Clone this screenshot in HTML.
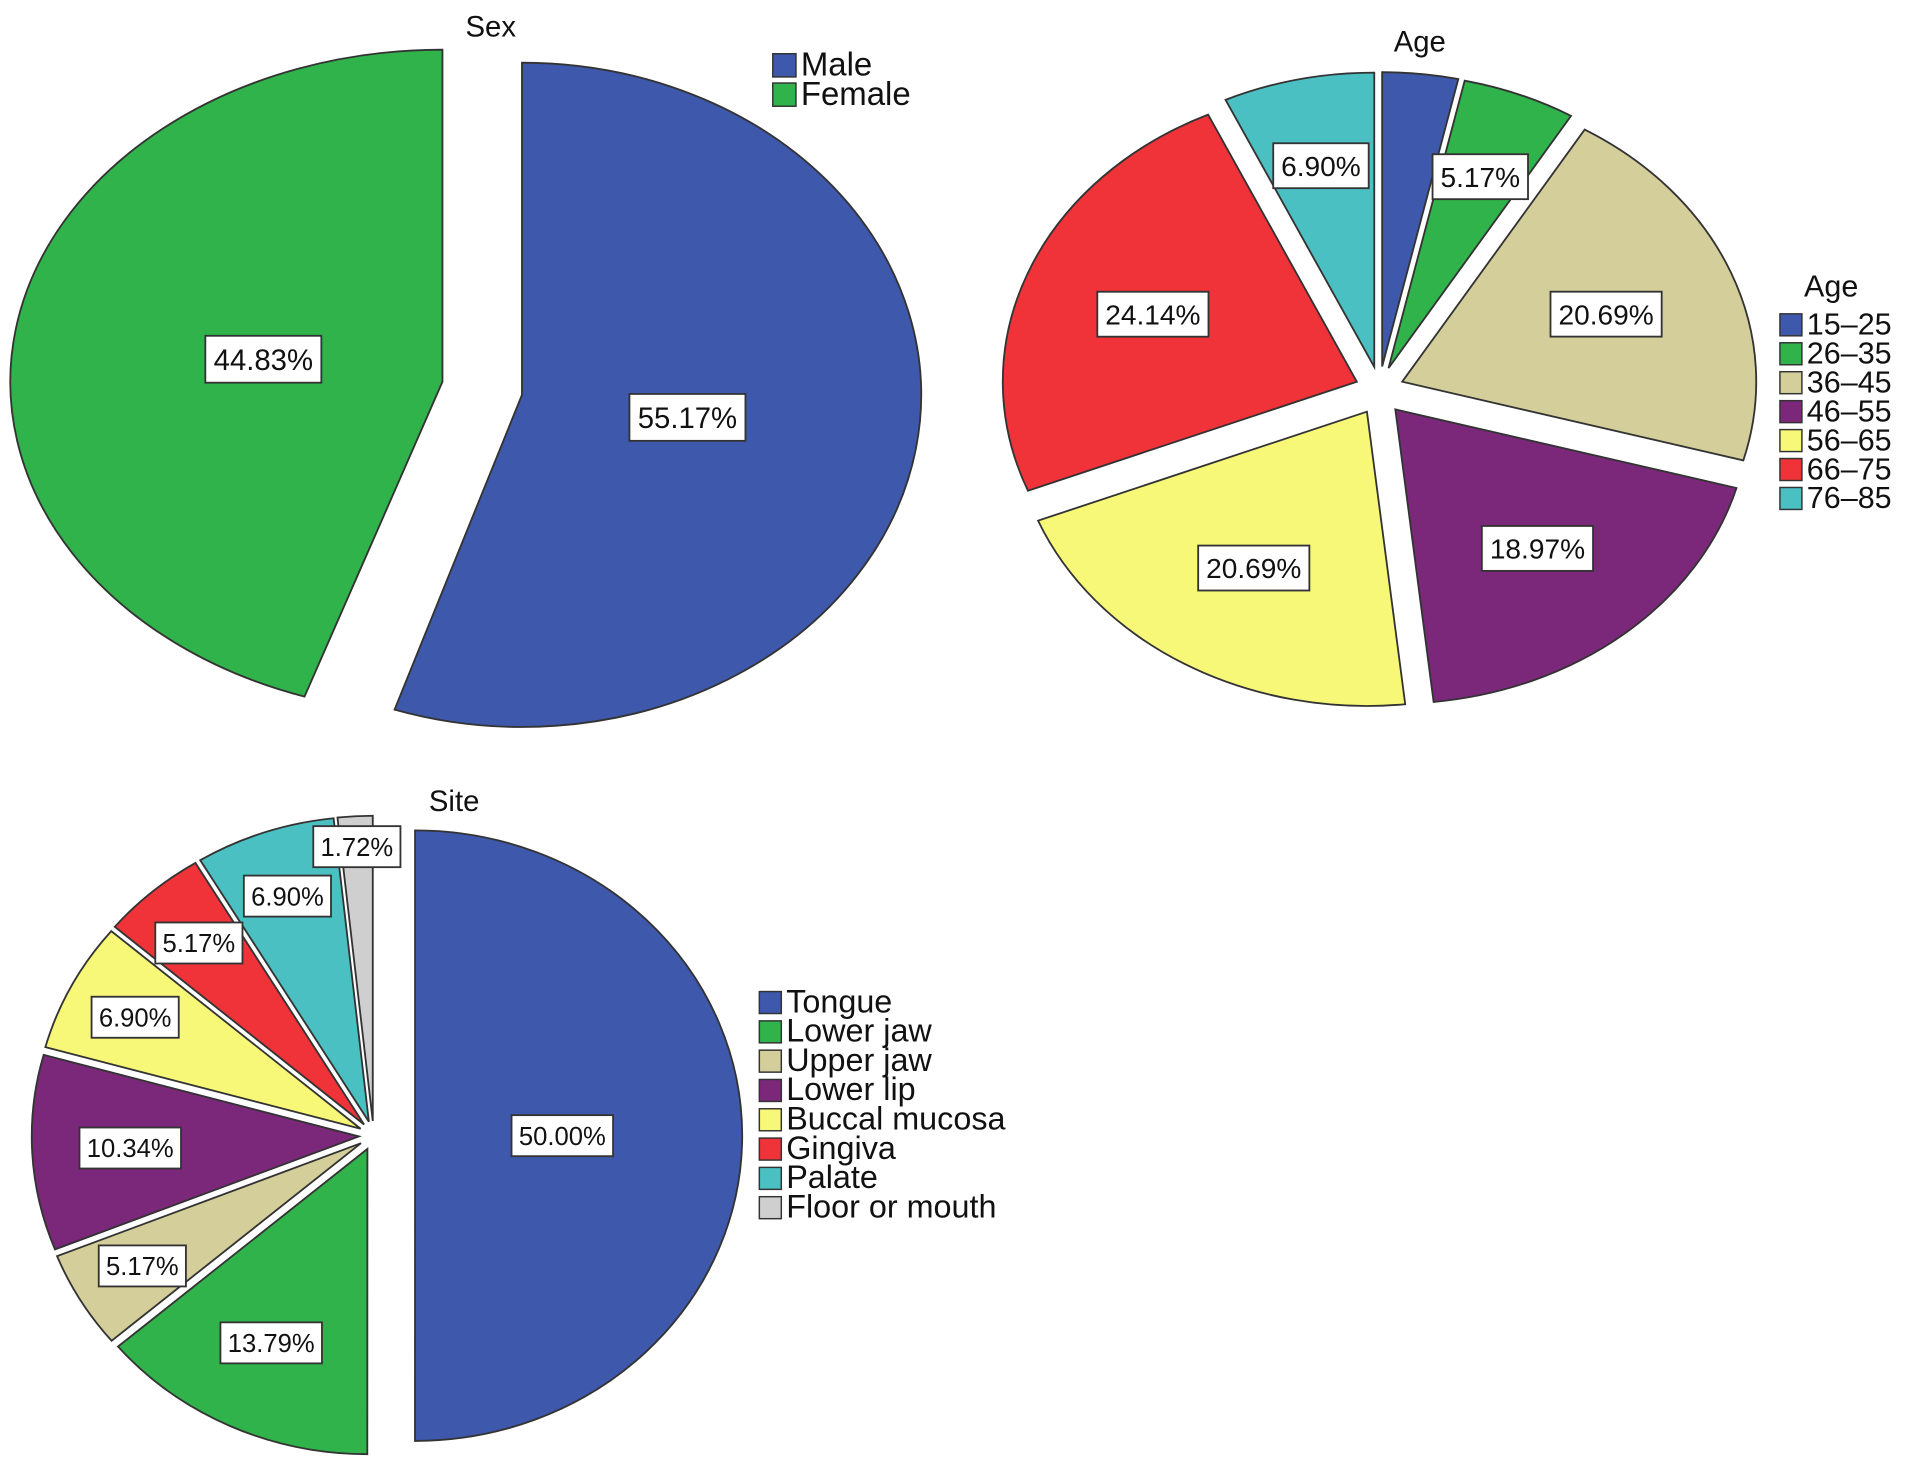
<!DOCTYPE html>
<html><head><meta charset="utf-8"><style>
html,body{margin:0;padding:0;background:#fff}
svg{display:block}
text{font-family:"Liberation Sans",sans-serif;fill:#111}
</style></head><body>
<svg id="chart" width="1913" height="1480" viewBox="0 0 1567 1212" preserveAspectRatio="none">
<g id="g-sex"></g>
<g id="g-age"></g>
<g id="g-site"></g>
</svg>
<script>
const sexCategories = ["Male","Female"];
const sexValues = [55.17, 44.83];
const ageCategories = ["15–25","26–35","36–45","46–55","56–65","66–75","76–85"];
const ageValues = [3.45, 5.17, 20.69, 18.97, 20.69, 24.14, 6.90];
const siteCategories = ["Tongue","Lower jaw","Upper jaw","Lower lip","Buccal mucosa","Gingiva","Palate","Floor or mouth"];
const siteValues = [50.00, 13.79, 5.17, 10.34, 6.90, 5.17, 6.90, 1.72];
const colors = ["#3e58ac","#2fb34a","#d4cf9a","#7b287a","#f8f878","#ef3338","#4ac0c3","#cfcfcf"];
const NS = "http://www.w3.org/2000/svg";
function mk(tag, attrs, parent){const e=document.createElementNS(NS,tag);for(const k in attrs)e.setAttribute(k,attrs[k]);parent.appendChild(e);return e;}
function pt(cx,cy,rx,ry,a){return [cx+rx*Math.sin(a), cy-ry*Math.cos(a)];}
function drawPie(g, name, cats, vals, o){
  const total = vals.reduce((a,b)=>a+b,0);
  let acc = 0;
  const labels = [];
  vals.forEach((v,i)=>{
    const a0 = acc/total*2*Math.PI; acc += v; const a1 = acc/total*2*Math.PI;
    const am = (a0+a1)/2;
    const ex = o.explode(i, v);
    const cx = o.cx + ex*Math.sin(am), cy = o.cy - ex*Math.cos(am);
    const rx = o.rxf ? o.rxf(i) : o.rx;
    const p0 = pt(cx,cy,rx,o.ry,a0), p1 = pt(cx,cy,rx,o.ry,a1);
    const large = (a1-a0) > Math.PI ? 1 : 0;
    const path = mk("path",{d:`M${cx},${cy} L${p0[0]},${p0[1]} A${rx},${o.ry} 0 ${large} 1 ${p1[0]},${p1[1]} Z`,fill:colors[i],stroke:"#333","stroke-width":1.5},g);
    
    
    const frac = v/total;
    const f = frac > 0.4 ? o.bigf : (frac < 0.03 ? 0.9 : (frac < 0.08 ? o.lf+0.08 : o.lf));
    const lp = pt(cx,cy,rx*f,o.ry*f,am);
    if (!(o.hide && o.hide(v/total))) labels.push([lp, v, i]);
  });
  labels.forEach(([lp,v,i])=>{
    const txt = v.toFixed(2)+"%";
    const w = o.fs*0.56*txt.length+o.fs*0.6, h = o.fs*1.6;
    const r = mk("rect",{x:lp[0]-w/2,y:lp[1]-h/2,width:w,height:h,fill:"#fff",stroke:"#333","stroke-width":1.5},g);
    
    
    const t = mk("text",{x:lp[0],y:lp[1]+o.fs*0.36,"text-anchor":"middle","font-size":o.fs},g);
    t.textContent = txt;
    
    
  });
  const tt = mk("text",{x:o.tx,y:o.ty,"text-anchor":"middle","font-size":24},g);
  tt.textContent = o.title;
  
  
  if (o.legTitle){
    const lt = mk("text",{x:o.lx+42,y:o.ly-14,"text-anchor":"middle","font-size":25},g);
    lt.textContent = o.legTitle;
    
    
  }
  cats.forEach((c,i)=>{
    const y = o.ly + i*o.lsp;
    const s = mk("rect",{x:o.lx,y:y,width:o.sq,height:o.sq,fill:colors[i],stroke:"#333","stroke-width":1.2},g);
    
    
    const t = mk("text",{x:o.lx+o.sq+4,y:y+o.sq-1,"font-size":o.lfs},g);
    t.textContent = c;
    
    
  });
}
drawPie(document.getElementById("g-sex"),"sex",sexCategories,sexValues,{
  cx:395,cy:318,rx:332,ry:272,rxf:(i)=>i===0?327:354,explode:(i)=>33,lf:0.45,bigf:0.42,fs:24,
  title:"Sex",tx:402,ty:30,lx:633,ly:44,lsp:24,sq:19,lfs:27});
drawPie(document.getElementById("g-age"),"age",ageCategories,ageValues,{
  cx:1130,cy:320,rx:290,ry:241,explode:(i)=>20,lf:0.62,bigf:0.45,fs:23,hide:(fr)=>fr<0.04,
  title:"Age",tx:1163,ty:42,legTitle:"Age",lx:1458,ly:257,lsp:23.7,sq:18,lfs:25});
drawPie(document.getElementById("g-site"),"site",siteCategories,siteValues,{
  cx:306,cy:930,rx:268,ry:250,explode:(i)=>i===0?34:12,lf:0.7,bigf:0.45,fs:21,
  title:"Site",tx:372,ty:664,lx:622,ly:812,lsp:24,sq:18,lfs:26.5});
</script>
</body></html>
